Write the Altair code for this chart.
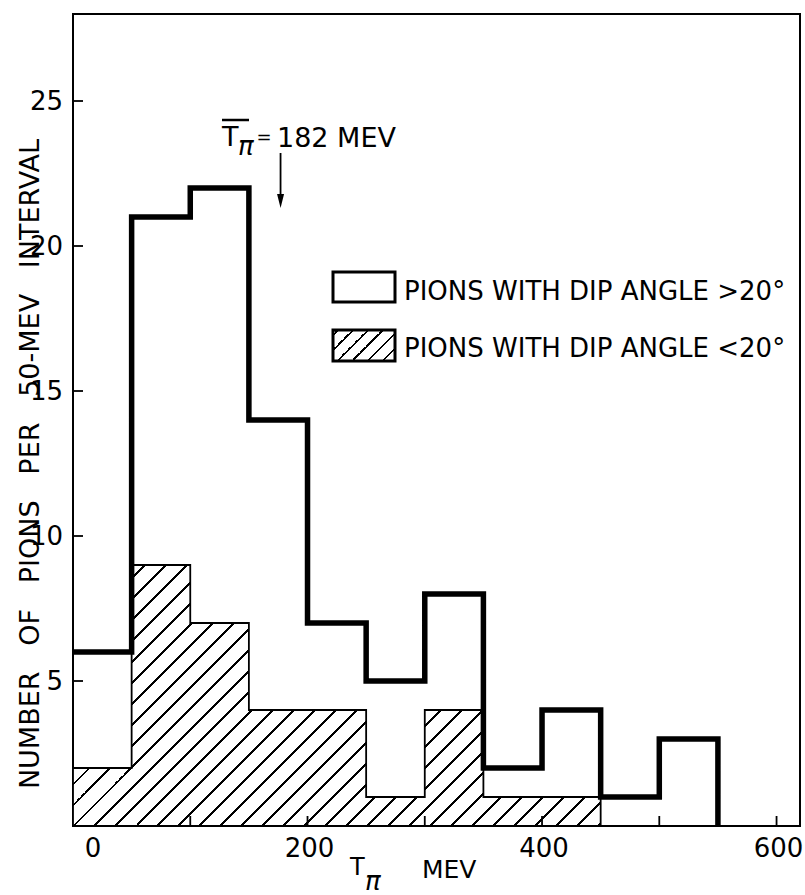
import altair as alt
import pandas as pd

# ---------------- data ----------------
bin_left = [0, 50, 100, 150, 200, 250, 300, 350, 400, 450, 500]   # MeV, 50-MeV bins
bin_width = 50
all_pions = [6, 21, 22, 14, 7, 5, 8, 2, 4, 1, 3]        # total (thick outline)
low_dip_pions = [2, 9, 7, 4, 4, 1, 4, 1, 1, 0, 0]       # dip angle < 20 deg (hatched)
x_tick_values = [100, 200, 300, 400, 500, 600]
x_label_values = [0, 200, 400, 600]
y_tick_values = [5, 10, 15, 20, 25]
mean_arrow_t = [177]                                     # position of the mean arrow
legend_labels = ["PIONS WITH DIP ANGLE >20°", "PIONS WITH DIP ANGLE <20°"]
y_title = "NUMBER OF PIONS PER 50-MEV INTERVAL"
x_title_unit = "MEV"
mean_label = "182 MEV"

# ---------------- layout ----------------
FONT = "DejaVu Sans"
W_PLOT, H_PLOT = 727, 812
X_MAX, Y_MAX = 620, 28
sx = W_PLOT / X_MAX
sy = H_PLOT / Y_MAX

xs = alt.Scale(domain=[0, X_MAX], nice=False, zero=False)
ys = alt.Scale(domain=[0, Y_MAX], nice=False, zero=False)


def hatch(w, h, period, lw, phase=0.0):
    """Diagonal '/' hatching as a linear gradient over a w x h bounding box."""
    L = w + h
    k = L / (w * w + h * h)
    stops = [alt.GradientStop(color="white", offset=0)]
    pos = phase
    while pos < L:
        a = pos / L
        b = min((pos + lw) / L, 1.0)
        stops += [
            alt.GradientStop(color="white", offset=a),
            alt.GradientStop(color="black", offset=a),
            alt.GradientStop(color="black", offset=b),
            alt.GradientStop(color="white", offset=b),
        ]
        pos += period
    stops.append(alt.GradientStop(color="white", offset=1))
    return alt.LinearGradient(gradient="linear", stops=stops,
                              x1=0, y1=0, x2=k * w, y2=k * h)


edges = bin_left + [bin_left[-1] + bin_width]
total_df = pd.DataFrame({"t": edges, "n": all_pions + [0]})
low_df = pd.DataFrame({"t": edges, "n": low_dip_pions + [0]})

area_w = edges[-1] * sx
area_h = max(low_dip_pions) * sy

hatched = alt.Chart(low_df).mark_area(
    interpolate="step-after",
    fill=hatch(area_w, area_h, 21, 2.8, 8),
    stroke="black", strokeWidth=1.8, opacity=1,
).encode(x=alt.X("t:Q", scale=xs, axis=None),
         y=alt.Y("n:Q", scale=ys, axis=None))

outline = alt.Chart(total_df).mark_line(
    interpolate="step-after", color="black", strokeWidth=5.5,
    strokeJoin="miter", strokeCap="butt",
).encode(x=alt.X("t:Q", scale=xs, axis=None),
         y=alt.Y("n:Q", scale=ys, axis=None))

# ---------------- ticks and tick labels (inward ticks) ----------------
y_ticks = alt.Chart(pd.DataFrame({"n": y_tick_values})).mark_rule(
    color="black", strokeWidth=1.8
).encode(y=alt.Y("n:Q", scale=ys, axis=None), x=alt.value(0), x2=alt.value(10))

x_ticks = alt.Chart(pd.DataFrame({"t": x_tick_values})).mark_rule(
    color="black", strokeWidth=1.8
).encode(x=alt.X("t:Q", scale=xs, axis=None),
         y=alt.value(H_PLOT), y2=alt.value(H_PLOT - 10))

y_labels = alt.Chart(pd.DataFrame({"n": y_tick_values,
                                   "lbl": [str(v) for v in y_tick_values]})).mark_text(
    align="right", baseline="middle", font=FONT, fontSize=26, color="black", dx=-10, dy=1
).encode(y=alt.Y("n:Q", scale=ys, axis=None), x=alt.value(0), text="lbl:N")

x_lab_df = pd.DataFrame({"t": x_label_values, "lbl": [str(v) for v in x_label_values]})
x_labels_first = alt.Chart(x_lab_df).transform_filter("datum.t == 0").mark_text(
    align="center", baseline="alphabetic", font=FONT, fontSize=26, color="black", dx=20
).encode(x=alt.X("t:Q", scale=xs, axis=None), y=alt.value(H_PLOT + 31), text="lbl:N")
x_labels_rest = alt.Chart(x_lab_df).transform_filter("datum.t != 0").mark_text(
    align="center", baseline="alphabetic", font=FONT, fontSize=26, color="black", dx=2
).encode(x=alt.X("t:Q", scale=xs, axis=None), y=alt.value(H_PLOT + 31), text="lbl:N")

# ---------------- legend ----------------
leg_box1 = alt.Chart(pd.DataFrame({"k": [0]})).mark_rect(
    fill="white", stroke="black", strokeWidth=3
).encode(x=alt.value(260), x2=alt.value(322), y=alt.value(258), y2=alt.value(288))
leg_box2 = alt.Chart(pd.DataFrame({"k": [0]})).mark_rect(
    fill=hatch(62, 31, 15, 2.6, 4), stroke="black", strokeWidth=3
).encode(x=alt.value(260), x2=alt.value(322), y=alt.value(316), y2=alt.value(347))


def txt(s, x, y, size, align="left", baseline="alphabetic", style="normal", angle=0):
    return alt.Chart(pd.DataFrame({"s": [s]})).mark_text(
        align=align, baseline=baseline, font=FONT, fontSize=size,
        fontStyle=style, angle=angle, color="black"
    ).encode(x=alt.value(x), y=alt.value(y), text="s:N")


leg_t1 = txt(legend_labels[0], 331, 286, 26)
leg_t2 = txt(legend_labels[1], 331, 343, 26)

# ---------------- mean annotation ----------------
ann_T = txt("T", 149, 132, 27)
ann_pi = txt("π", 165, 141, 26, style="italic")
ann_bar = alt.Chart(pd.DataFrame({"k": [0]})).mark_rule(
    color="black", strokeWidth=2.5
).encode(x=alt.value(149), x2=alt.value(176), y=alt.value(106))
ann_eq = txt("=", 191, 129, 18, align="center")
ann_val = txt(mean_label, 204, 133, 27)

arrow_df = pd.DataFrame({"t": mean_arrow_t})
arrow_line = alt.Chart(arrow_df).mark_rule(color="black", strokeWidth=1.8).encode(
    x=alt.X("t:Q", scale=xs, axis=None), y=alt.value(139), y2=alt.value(184))
arrow_head = alt.Chart(arrow_df).mark_point(
    shape="M-0.5,-1L0.5,-1L0,1Z", filled=True, size=196, color="black",
    opacity=1, strokeWidth=0
).encode(x=alt.X("t:Q", scale=xs, axis=None), y=alt.value(187))

# ---------------- axis titles ----------------
nb = "\u00a0\u00a0\u00a0"
y_title_txt = txt(nb.join(y_title.split(" ")), -42, 450, 27,
                  align="center", baseline="middle", angle=270)
x_T = txt("T", 277, 861, 24)
x_pi = txt("π", 292, 876, 26, style="italic")
x_unit = txt(x_title_unit, 349, 864, 25)

chart = alt.layer(
    hatched, outline, y_ticks, x_ticks, y_labels, x_labels_first, x_labels_rest,
    leg_box1, leg_box2, leg_t1, leg_t2,
    ann_bar, ann_T, ann_pi, ann_eq, ann_val, arrow_line, arrow_head,
    y_title_txt, x_T, x_pi, x_unit,
).properties(
    width=W_PLOT, height=H_PLOT,
    autosize=alt.AutoSizeParams(type="none"),
    padding={"left": 73, "top": 14, "right": 5, "bottom": 69},
    background="white",
).configure_view(stroke="black", strokeWidth=2)

chart.save("out.html", embed_options={"renderer": "svg", "actions": False})
